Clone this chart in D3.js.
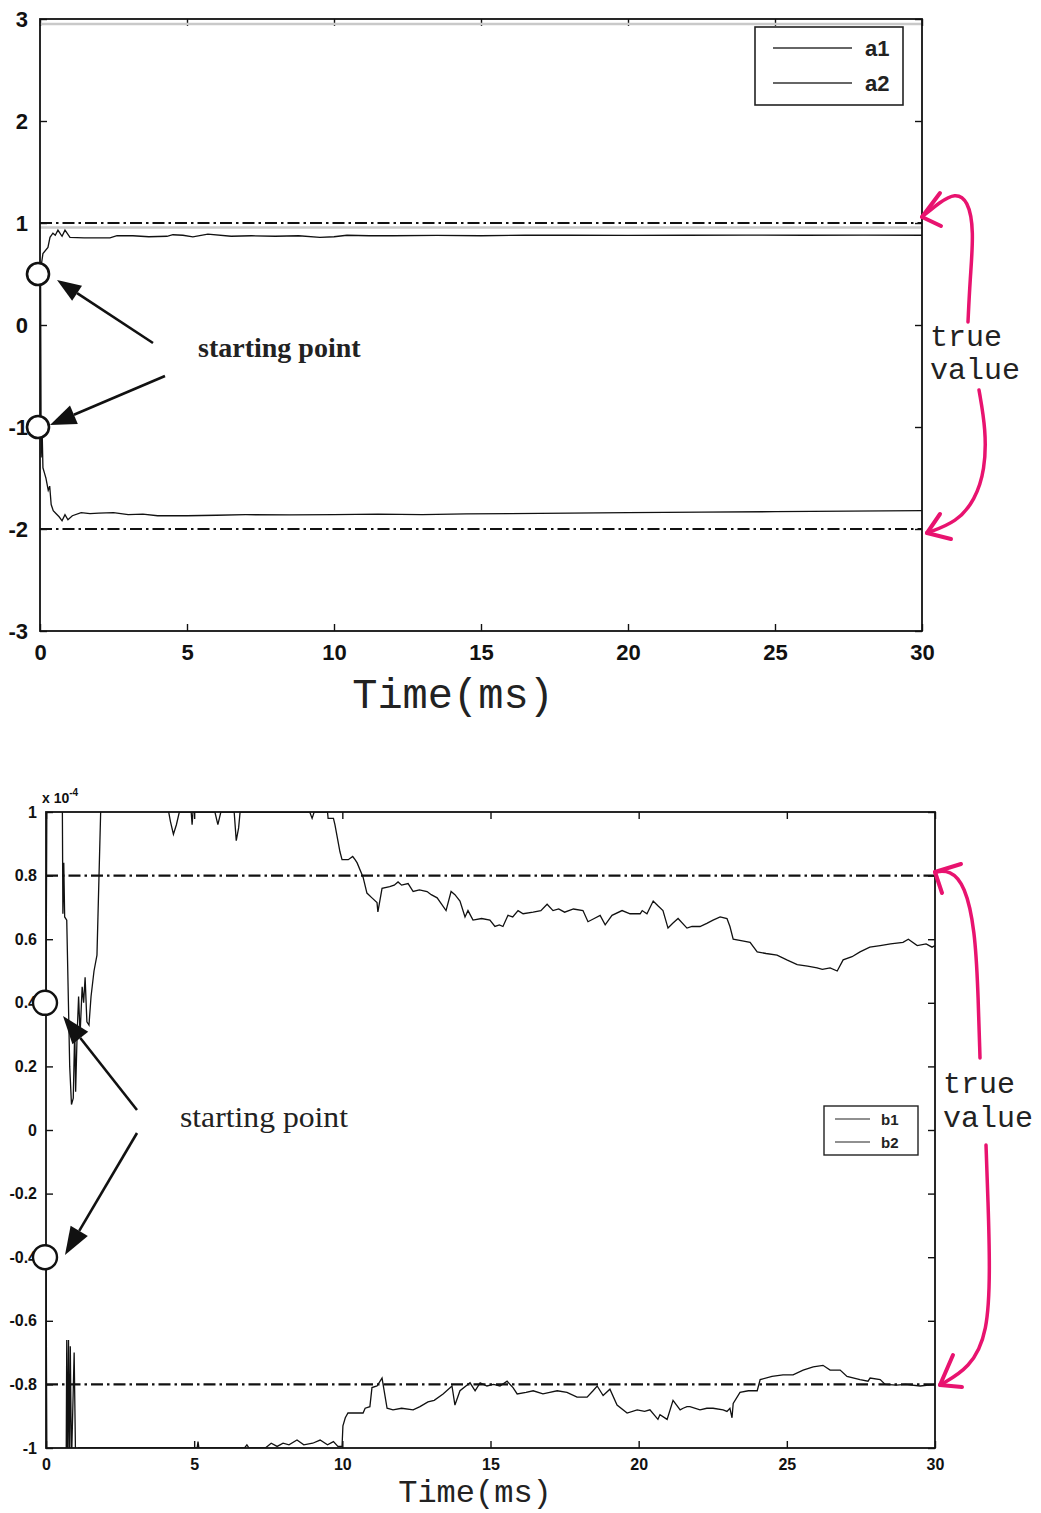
<!DOCTYPE html>
<html><head><meta charset="utf-8">
<script src="https://cdn.jsdelivr.net/npm/d3@7"></script>
<style>
body{margin:0;background:#fff;}
svg{display:block;}
</style></head>
<body>
<svg id="c" width="1041" height="1513"></svg>
<script>
// ---------- DATA ----------
const xTicks = [0,5,10,15,20,25,30];
const topYTicks = [-3,-2,-1,0,1,2,3];
const botYTicks = [-1,-0.8,-0.6,-0.4,-0.2,0,0.2,0.4,0.6,0.8,1];
const topSeriesNames = ["a1","a2"];
const botSeriesNames = ["b1","b2"];
const topTrue = [1,-2];
const botTrue = [0.8,-0.8];
const topStart = [0.5,-1];
const botStart = [0.4,-0.4];
const scanBands = [2.95,0.955];

const a1 = [[0,0.5],[0.1,0.7],[0.27,0.76],[0.34,0.86],[0.44,0.9],[0.52,0.88],[0.61,0.93],[0.7,0.89],[0.75,0.87],[0.85,0.93],[1.02,0.86],[1.5,0.855],[2.38,0.855],[2.62,0.875],[3.16,0.875],[3.7,0.865],[4.32,0.87],[4.52,0.885],[4.86,0.88],[5.2,0.865],[5.71,0.89],[6.5,0.87],[7.2,0.875],[8,0.87],[8.8,0.875],[9.52,0.86],[10.0,0.865],[10.44,0.88],[11.2,0.875],[12,0.875],[13.5,0.878],[15,0.875],[16.5,0.88],[18,0.88],[20,0.878],[22,0.88],[24,0.882],[26,0.88],[28,0.882],[30,0.88]];
const a2 = [[0,-1],[0.02,0.45],[0.04,-1.3],[0.07,-1.0],[0.1,-1.4],[0.15,-1.45],[0.2,-1.5],[0.28,-1.62],[0.33,-1.58],[0.38,-1.76],[0.45,-1.82],[0.55,-1.85],[0.65,-1.88],[0.75,-1.92],[0.85,-1.86],[0.95,-1.91],[1.1,-1.87],[1.4,-1.84],[1.7,-1.85],[2,-1.845],[2.5,-1.84],[3,-1.86],[3.5,-1.855],[4,-1.87],[5,-1.87],[6,-1.865],[7,-1.86],[8.5,-1.862],[10,-1.86],[11.5,-1.855],[13,-1.86],[14.5,-1.852],[16,-1.85],[18,-1.845],[20,-1.84],[22.5,-1.835],[25,-1.83],[27.5,-1.825],[30,-1.82]];

const b1 = [[0,0.4],[0.03,1.05],[0.55,1.05],[0.57,0.68],[0.6,0.84],[0.63,0.67],[0.7,0.66],[0.8,0.2],[0.86,0.08],[0.92,0.1],[0.97,0.32],[1.0,0.12],[1.05,0.3],[1.1,0.42],[1.15,0.3],[1.22,0.45],[1.27,0.4],[1.32,0.48],[1.38,0.34],[1.45,0.33],[1.52,0.42],[1.62,0.5],[1.72,0.55],[1.85,1.02],[4.1,1.02],[4.2,0.97],[4.3,0.93],[4.4,0.96],[4.5,1.0],[4.9,1.0],[4.93,0.96],[4.96,1.0],[5.7,1.0],[5.8,0.96],[5.9,1.0],[6.35,1.0],[6.42,0.91],[6.5,0.95],[6.55,1.0],[8.9,1.0],[8.98,0.98],[9.05,1.0],[9.5,1.0],[9.52,0.98],[9.7,0.98],[9.75,0.96],[9.92,0.875],[9.99,0.85],[10.2,0.85],[10.35,0.86],[10.43,0.85],[10.5,0.84],[10.7,0.795],[10.83,0.745],[11.0,0.73],[11.17,0.715],[11.2,0.686],[11.34,0.76],[11.6,0.765],[11.75,0.77],[11.88,0.78],[12.0,0.77],[12.22,0.775],[12.39,0.75],[12.6,0.755],[12.86,0.75],[13.0,0.74],[13.2,0.73],[13.5,0.69],[13.67,0.75],[13.8,0.74],[13.97,0.72],[14.14,0.67],[14.24,0.69],[14.41,0.66],[14.7,0.665],[14.98,0.66],[15.15,0.64],[15.3,0.645],[15.42,0.64],[15.59,0.675],[15.75,0.67],[15.93,0.69],[16.1,0.68],[16.44,0.685],[16.7,0.69],[16.91,0.71],[17.11,0.69],[17.3,0.695],[17.5,0.685],[17.8,0.695],[18.12,0.69],[18.29,0.655],[18.5,0.665],[18.7,0.675],[18.87,0.645],[19.1,0.675],[19.44,0.69],[19.71,0.68],[20.05,0.68],[20.12,0.69],[20.2,0.685],[20.28,0.68],[20.49,0.72],[20.65,0.705],[20.82,0.69],[20.99,0.635],[21.15,0.65],[21.33,0.665],[21.63,0.635],[21.8,0.64],[22.07,0.64],[22.3,0.65],[22.51,0.66],[22.75,0.67],[22.98,0.665],[23.08,0.64],[23.19,0.6],[23.5,0.595],[23.76,0.59],[24.0,0.56],[24.3,0.555],[24.67,0.55],[25.0,0.535],[25.35,0.52],[25.7,0.515],[26.02,0.51],[26.2,0.505],[26.46,0.51],[26.7,0.5],[26.9,0.535],[27.2,0.545],[27.47,0.56],[27.8,0.575],[28.15,0.58],[28.5,0.585],[28.92,0.59],[29.1,0.6],[29.4,0.58],[29.7,0.585],[29.9,0.575],[30,0.58]];
const b2 = [[0,-0.4],[0.03,-1.05],[0.68,-1.05],[0.7,-0.66],[0.73,-1.05],[0.76,-0.66],[0.79,-1.05],[0.82,-0.68],[0.86,-1.05],[0.95,-0.7],[1.0,-1.05],[1.1,-1.0],[5.1,-1.0],[5.13,-0.98],[5.16,-1.0],[6.7,-1.0],[6.78,-0.99],[6.85,-1.0],[7.4,-1.0],[7.6,-0.985],[7.8,-0.995],[8.0,-0.985],[8.2,-0.99],[8.47,-0.975],[8.7,-0.99],[9.0,-0.985],[9.25,-0.975],[9.5,-0.99],[9.7,-0.98],[9.85,-0.995],[9.99,-0.995],[10.02,-0.93],[10.1,-0.905],[10.19,-0.89],[10.5,-0.89],[10.7,-0.89],[10.77,-0.875],[10.93,-0.87],[11.0,-0.81],[11.17,-0.805],[11.34,-0.78],[11.51,-0.875],[11.71,-0.88],[12.0,-0.875],[12.39,-0.88],[12.62,-0.87],[12.89,-0.855],[13.1,-0.85],[13.4,-0.83],[13.7,-0.805],[13.8,-0.865],[13.97,-0.82],[14.31,-0.795],[14.48,-0.82],[14.65,-0.795],[14.88,-0.805],[15.1,-0.8],[15.32,-0.805],[15.56,-0.79],[15.76,-0.81],[15.9,-0.83],[16.2,-0.825],[16.44,-0.82],[16.77,-0.83],[17.0,-0.825],[17.25,-0.82],[17.58,-0.825],[17.92,-0.84],[18.26,-0.84],[18.46,-0.82],[18.6,-0.805],[18.8,-0.835],[19.03,-0.815],[19.27,-0.865],[19.61,-0.89],[19.95,-0.88],[20.2,-0.885],[20.38,-0.88],[20.65,-0.91],[20.72,-0.895],[20.96,-0.91],[21.16,-0.85],[21.4,-0.88],[21.5,-0.875],[21.63,-0.87],[21.73,-0.87],[22.07,-0.88],[22.3,-0.875],[22.51,-0.875],[22.85,-0.88],[22.98,-0.885],[23.08,-0.875],[23.15,-0.905],[23.19,-0.86],[23.42,-0.825],[23.7,-0.82],[24.0,-0.82],[24.1,-0.785],[24.5,-0.775],[24.87,-0.77],[25.21,-0.77],[25.55,-0.755],[25.89,-0.745],[26.22,-0.74],[26.46,-0.755],[26.8,-0.755],[27.03,-0.775],[27.47,-0.785],[27.74,-0.79],[27.81,-0.78],[28.15,-0.785],[28.32,-0.8],[28.7,-0.802],[29,-0.8],[29.5,-0.805],[30,-0.8]];

// ---------- LAYOUT ----------
const svg = d3.select("#c");
const MAG = "#e8136f";
const tickFont = "'Liberation Sans', Arial, sans-serif";
const hy = f => d => f(d).replace("\u2212","-");

function panel(cfg){
  const g = svg.append("g");
  const x = d3.scaleLinear().domain([0,30]).range([cfg.l, cfg.r]);
  const y = d3.scaleLinear().domain(cfg.yDomain).range([cfg.b, cfg.t]);
  const id = "clip"+cfg.key;
  svg.append("clipPath").attr("id",id).append("rect")
    .attr("x",cfg.l).attr("y",cfg.t).attr("width",cfg.r-cfg.l).attr("height",cfg.b-cfg.t);

  const ax = g.append("g").attr("transform",`translate(0,${cfg.b})`)
    .call(d3.axisBottom(x).tickValues(xTicks).tickSize(-cfg.tick).tickPadding(cfg.xPad).tickFormat(d3.format("d")));
  g.append("g").attr("transform",`translate(0,${cfg.t})`)
    .call(d3.axisTop(x).tickValues(xTicks).tickSize(-cfg.tick).tickFormat(""));
  const ay = g.append("g").attr("transform",`translate(${cfg.l},0)`)
    .call(d3.axisLeft(y).tickValues(cfg.yTicks).tickSize(-cfg.tick).tickPadding(cfg.yPad).tickFormat(cfg.yFmt));
  g.append("g").attr("transform",`translate(${cfg.r},0)`)
    .call(d3.axisRight(y).tickValues(cfg.yTicks).tickSize(-cfg.tick).tickFormat(""));
  g.selectAll(".domain").remove();
  g.selectAll(".tick line").attr("stroke","#111").attr("stroke-width",1.4);
  [ax,ay].forEach(a=>a.selectAll("text").attr("font-family",tickFont).attr("font-size",cfg.fs)
     .attr("font-weight","bold").attr("fill","#111"));

  const plot = g.append("g").attr("clip-path",`url(#${id})`);
  return {g,x,y,plot};
}

const dashDot = "12,4,2.5,4";
const line = (x,y)=>d3.line().x(d=>x(d[0])).y(d=>y(d[1]));

// ----- TOP PANEL -----
const T = panel({key:"t", l:40, r:922, t:19, b:631, yDomain:[-3,3], yTicks:topYTicks,
  yFmt:hy(d3.format("d")), tick:7, xPad:13, yPad:12, fs:22});
T.plot.selectAll(".band").data(scanBands).join("line")
  .attr("x1",T.x(0)).attr("x2",T.x(30)).attr("y1",d=>T.y(d)).attr("y2",d=>T.y(d))
  .attr("stroke","#c9c9c9").attr("stroke-width",2.5);
T.plot.selectAll(".truel").data(topTrue).join("line")
  .attr("x1",T.x(0)).attr("x2",T.x(30)).attr("y1",d=>T.y(d)).attr("y2",d=>T.y(d))
  .attr("stroke","#111").attr("stroke-width",2.2).attr("stroke-dasharray",dashDot);
[a1,a2].forEach(s=>T.plot.append("path").datum(s).attr("d",line(T.x,T.y))
  .attr("fill","none").attr("stroke","#111").attr("stroke-width",1.3));
T.g.append("rect").attr("x",40).attr("y",19).attr("width",882).attr("height",612)
  .attr("fill","none").attr("stroke","#111").attr("stroke-width",1.8);

const LT = T.g.append("g");
LT.append("rect").attr("x",755).attr("y",27).attr("width",148).attr("height",78)
  .attr("fill","#fff").attr("stroke","#222").attr("stroke-width",1.6);
topSeriesNames.forEach((n,i)=>{
  const yy = 48 + i*35;
  LT.append("line").attr("x1",773).attr("x2",852).attr("y1",yy).attr("y2",yy)
    .attr("stroke","#666").attr("stroke-width",2);
  LT.append("text").attr("x",865).attr("y",yy+8).text(n)
    .attr("font-family",tickFont).attr("font-weight","bold").attr("font-size",22).attr("fill","#222");
});

// ----- BOTTOM PANEL -----
const B = panel({key:"b", l:46, r:935, t:812, b:1448, yDomain:[-1,1], yTicks:botYTicks,
  yFmt:d=>(Math.abs(d)<1e-9?"0":(Math.abs(Math.abs(d)-1)<1e-9?d3.format("d")(d):d3.format(".1f")(d))).replace("\u2212","-"),
  tick:7, xPad:11, yPad:9, fs:16});
B.plot.selectAll(".truel").data(botTrue).join("line")
  .attr("x1",B.x(0)).attr("x2",B.x(30)).attr("y1",d=>B.y(d)).attr("y2",d=>B.y(d))
  .attr("stroke","#111").attr("stroke-width",2.2).attr("stroke-dasharray",dashDot);
[b1,b2].forEach(s=>B.plot.append("path").datum(s).attr("d",line(B.x,B.y))
  .attr("fill","none").attr("stroke","#111").attr("stroke-width",1.3));
B.g.append("rect").attr("x",46).attr("y",812).attr("width",889).attr("height",636)
  .attr("fill","none").attr("stroke","#111").attr("stroke-width",1.8);
const ex = B.g.append("text").attr("x",42).attr("y",803)
  .attr("font-family",tickFont).attr("font-weight","bold").attr("font-size",14).attr("fill","#111");
ex.append("tspan").text("x 10");
ex.append("tspan").attr("dy",-7).attr("font-size",10).text("-4");

const LB = B.g.append("g");
LB.append("rect").attr("x",824).attr("y",1106).attr("width",94).attr("height",49)
  .attr("fill","#fff").attr("stroke","#222").attr("stroke-width",1.4);
botSeriesNames.forEach((n,i)=>{
  const yy = 1119 + i*23;
  LB.append("line").attr("x1",835).attr("x2",870).attr("y1",yy).attr("y2",yy)
    .attr("stroke","#222").attr("stroke-width",1.2);
  LB.append("text").attr("x",881).attr("y",yy+6).text(n)
    .attr("font-family",tickFont).attr("font-weight","bold").attr("font-size",15).attr("fill","#222");
});

// ----- X axis titles -----
const mono = "'Liberation Mono', 'Courier New', monospace";
svg.append("text").attr("x",453).attr("y",708).attr("text-anchor","middle")
  .attr("font-family",mono).attr("font-size",42).attr("fill","#222").text("Time(ms)");
svg.append("text").attr("x",475).attr("y",1502).attr("text-anchor","middle")
  .attr("font-family",mono).attr("font-size",32).attr("fill","#222").text("Time(ms)");

// ----- starting point circles -----
topStart.forEach(v=>svg.append("circle").attr("cx",T.x(0)-2).attr("cy",T.y(v)).attr("r",11)
  .attr("fill","#fff").attr("stroke","#111").attr("stroke-width",2.6));
botStart.forEach(v=>svg.append("circle").attr("cx",B.x(0)-1).attr("cy",B.y(v)).attr("r",12)
  .attr("fill","#fff").attr("stroke","#111").attr("stroke-width",2.4));

// ----- black arrows -----
function arrow(x1,y1,x2,y2,len,wid){
  const a = Math.atan2(y2-y1,x2-x1);
  const bx = x2-len*Math.cos(a), by = y2-len*Math.sin(a);
  svg.append("line").attr("x1",x1).attr("y1",y1).attr("x2",bx).attr("y2",by)
    .attr("stroke","#111").attr("stroke-width",2.6);
  const px = -Math.sin(a)*wid/2, py = Math.cos(a)*wid/2;
  svg.append("path").attr("d",`M${x2},${y2}L${bx+px},${by+py}L${bx-px},${by-py}Z`).attr("fill","#111");
}
arrow(153,343,57,280,24,18);
arrow(165,376,50,425,26,20);
arrow(137,1110,63,1016,28,20);
arrow(137,1133,65,1255,28,20);

svg.append("text").attr("x",198).attr("y",357).text("starting point")
  .attr("font-family","'Liberation Serif', 'Times New Roman', serif").attr("font-weight","bold")
  .attr("font-size",28).attr("fill","#222");
svg.append("text").attr("x",180).attr("y",1127).text("starting point")
  .attr("font-family","'Liberation Serif', 'Times New Roman', serif")
  .attr("font-size",30).attr("textLength",168).attr("lengthAdjust","spacingAndGlyphs").attr("fill","#222");

// ----- true value annotation -----
[["true",930,346],["value",930,379],["true",943,1093],["value",943,1127]].forEach(([t,x,y])=>
  svg.append("text").attr("x",x).attr("y",y).text(t).attr("font-family",mono).attr("font-size",30).attr("fill","#222"));

const curve = d3.line().curve(d3.curveBasis);
function magenta(pts, wings, tip){
  svg.append("path").attr("d",curve(pts)).attr("fill","none").attr("stroke",MAG)
    .attr("stroke-width",3.5).attr("stroke-linecap","round");
  wings.forEach(w=>svg.append("line").attr("x1",tip[0]).attr("y1",tip[1]).attr("x2",w[0]).attr("y2",w[1])
    .attr("stroke",MAG).attr("stroke-width",4).attr("stroke-linecap","round"));
}
magenta([[968,322],[970,280],[974,230],[968,200],[955,193],[940,202],[922,217]],[[940,193],[941,226]],[922,217]);
magenta([[979,390],[986,430],[985,470],[975,500],[957,522],[927,533]],[[940,514],[951,539]],[927,533]);
magenta([[980,1058],[978,990],[975,930],[965,885],[950,870],[935,872]],[[961,864],[942,893]],[935,872]);
magenta([[986,1145],[988,1200],[990,1267],[988,1333],[970,1368],[940,1385]],[[953,1355],[962,1387]],[940,1385]);
</script>
</body></html>
